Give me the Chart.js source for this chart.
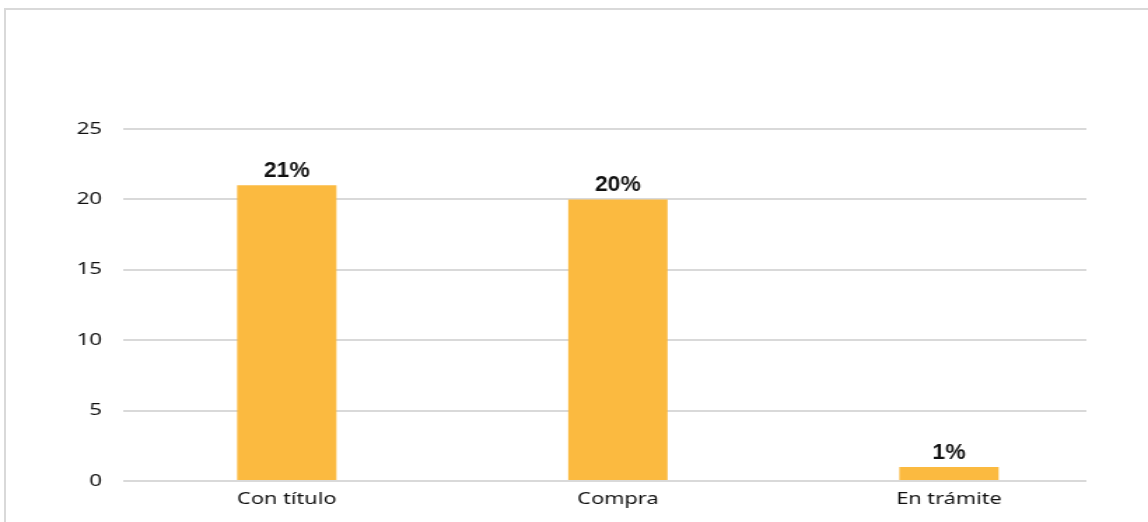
<!DOCTYPE html>
<html>
<head>
<meta charset="utf-8">
<script src="https://cdn.jsdelivr.net/npm/chart.js@4"></script>
<style>
  html, body { margin: 0; padding: 0; background: #fff; overflow: hidden; }
  #frame {
    position: absolute; left: 4px; top: 8px; width: 1300px; height: 700px;
    border-left: 2px solid #d9d9d9; border-top: 2px solid #d9d9d9;
  }
  /* the chart is drawn narrow and stretched out to the full width */
  #myChart { position: absolute; left: 0; top: 0; transform: scaleX(1.4); transform-origin: 0 0; }
</style>
</head>
<body>
<div id="frame"></div>
<canvas id="myChart" width="820" height="522"></canvas>
<script>
var categories = ['Con título', 'Compra', 'En trámite'];
var values = [21, 20, 1];
var valueLabels = ['21%', '20%', '1%'];
var yTicks = [0, 5, 10, 15, 20, 25];

// percentage text above each bar, squeezed a little for a condensed look
var barLabels = {
  id: 'barLabels',
  afterDatasetsDraw: function(chart) {
    var ctx = chart.ctx;
    var meta = chart.getDatasetMeta(0);
    meta.data.forEach(function(bar, i) {
      ctx.save();
      ctx.font = 'bold 22px "Liberation Sans"';
      ctx.fillStyle = '#111';
      ctx.textAlign = 'center';
      ctx.textBaseline = 'alphabetic';
      ctx.translate(bar.x, bar.y - 8);
      ctx.scale(0.74, 1);
      ctx.fillText(valueLabels[i], 0, 0);
      ctx.restore();
    });
  }
};

var ctx = document.getElementById('myChart').getContext('2d');
var myChart = new Chart(ctx, {
  type: 'bar',
  data: {
    datasets: [
      {
        data: values.map(function(v, i) { return { x: i, y: v }; }),
        backgroundColor: 'rgb(251, 186, 64)',
        borderWidth: 0,
        barPercentage: 0.3,
        categoryPercentage: 1
      }
    ]
  },
  options: {
    responsive: false,
    animation: false,
    layout: { padding: { top: 129, right: 44, bottom: 0, left: 0 } },
    plugins: {
      legend: { display: false },
      tooltip: { enabled: false }
    },
    scales: {
      x: {
        type: 'linear',
        min: -0.494,
        max: 2.415,
        offset: false,
        grid: { display: false, drawTicks: false, offset: false },
        border: { display: false },
        afterBuildTicks: function(scale) {
          scale.ticks = categories.map(function(c, i) { return { value: i }; });
        },
        afterFit: function(scale) { scale.height = 41; },
        ticks: {
          padding: 9,
          autoSkip: false,
          maxRotation: 0,
          color: '#111',
          font: { family: 'Noto Sans', size: 15.5 },
          callback: function(value) { return categories[value]; }
        }
      },
      y: {
        min: 0,
        max: 25,
        afterBuildTicks: function(scale) {
          scale.ticks = yTicks.map(function(v) { return { value: v }; });
        },
        afterFit: function(scale) { scale.width = 88; },
        grid: { color: '#d9d9d9', lineWidth: 2, drawTicks: false },
        border: { display: false },
        ticks: {
          padding: 15,
          color: '#111',
          font: { family: 'Noto Sans', size: 16 }
        }
      }
    }
  },
  plugins: [barLabels]
});
</script>
</body>
</html>
